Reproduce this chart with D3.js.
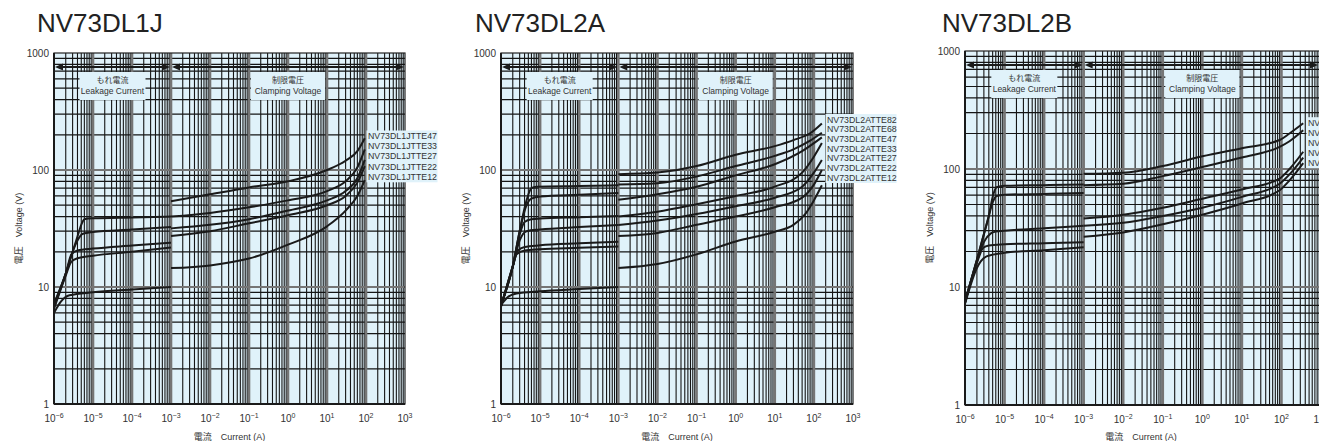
<!DOCTYPE html>
<html>
<head>
<meta charset="utf-8">
<script src="https://cdn.jsdelivr.net/npm/d3@7"></script>
<style>
body { margin: 0; background: #fff; }
text { font-family: "Liberation Sans", Arial, "Noto Sans CJK JP", sans-serif; fill: #333; }
</style>
</head>
<body>
<svg id="chart" width="1319" height="441"></svg>
<script>
const currentExponents = [-6, -5, -4, -3, -2, -1, 0, 1, 2, 3];
const voltageTicks = [1, 10, 100, 1000];
const boundaryCurrent = 1e-3;

// NV73DL1J
const dl1jNames = ["NV73DL1JTTE47", "NV73DL1JTTE33", "NV73DL1JTTE27", "NV73DL1JTTE22", "NV73DL1JTTE12"];
const dl1jLeakage = [
	[[1e-6, 7.2], [2e-6, 13], [3e-6, 20], [4e-6, 27], [5e-6, 34], [6e-6, 38], [1e-5, 38.6], [1e-4, 39.3], [1e-3, 40]],
	[[1e-6, 7], [2e-6, 13], [3e-6, 20], [4e-6, 25], [5.5e-6, 28.5], [1e-5, 29.5], [1e-4, 31], [1e-3, 32.5]],
	[[1e-6, 6.8], [2e-6, 13], [2.8e-6, 19], [4e-6, 20.5], [1e-5, 21.3], [1e-4, 22.6], [1e-3, 23.9]],
	[[1e-6, 6.5], [2e-6, 12.5], [2.8e-6, 16.5], [4e-6, 17.6], [1e-5, 18.5], [1e-4, 20], [1e-3, 21.8]],
	[[1e-6, 6], [1.5e-6, 7.5], [2.5e-6, 8.5], [1e-5, 9], [1e-4, 9.5], [1e-3, 10]]
];
const dl1jClamping = [
	[[1e-3, 54], [1e-2, 62], [1e-1, 71], [1, 80], [10, 100], [30, 120], [60, 145], [93, 187]],
	[[1e-3, 40], [1e-2, 43], [1e-1, 48], [1, 55], [10, 66], [30, 80], [60, 105], [93, 150]],
	[[1e-3, 31.7], [1e-2, 34], [1e-1, 38], [1, 45], [10, 55], [30, 66], [60, 85], [93, 122]],
	[[1e-3, 27.3], [1e-2, 30], [1e-1, 35], [1, 41], [10, 50], [30, 60], [60, 78], [93, 108]],
	[[1e-3, 14.5], [1e-2, 15.3], [1e-1, 17.5], [1, 23], [10, 33], [30, 45], [60, 60], [93, 82]]
];

// NV73DL2A
const dl2aNames = ["NV73DL2ATTE82", "NV73DL2ATTE68", "NV73DL2ATTE47", "NV73DL2ATTE33", "NV73DL2ATTE27", "NV73DL2ATTE22", "NV73DL2ATTE12"];
const dl2aLeakage = [
	[[1e-6, 7], [2e-6, 15], [3e-6, 30], [4.5e-6, 55], [6e-6, 70], [8e-6, 72], [1e-4, 73], [1e-3, 74]],
	[[1e-6, 7], [2e-6, 15], [3e-6, 30], [4.5e-6, 50], [6e-6, 57], [1e-5, 59.5], [1e-4, 61.5], [1e-3, 63.5]],
	[[1e-6, 6.9], [2e-6, 15], [3e-6, 28], [4e-6, 36], [6e-6, 38], [1e-5, 38.5], [1e-4, 39.5], [1e-3, 40.5]],
	[[1e-6, 6.9], [2e-6, 15], [3e-6, 25], [4.5e-6, 30], [1e-5, 31], [1e-4, 32.5], [1e-3, 33.8]],
	[[1e-6, 6.8], [2e-6, 15], [2.7e-6, 20.5], [4e-6, 22], [1e-5, 22.7], [1e-4, 23.6], [1e-3, 24.4]],
	[[1e-6, 6.8], [2e-6, 15], [2.5e-6, 19], [4e-6, 20.5], [1e-5, 21], [1e-4, 21.6], [1e-3, 22.2]],
	[[1e-6, 7], [1.5e-6, 8.2], [2.5e-6, 8.8], [1e-5, 9.2], [1e-4, 9.6], [1e-3, 10]]
];
const dl2aClamping = [
	[[1e-3, 92], [1e-2, 95], [1e-1, 108], [1, 135], [10, 160], [30, 180], [80, 206], [160, 250]],
	[[1e-3, 75], [1e-2, 77], [1e-1, 88], [1, 108], [10, 132], [30, 150], [80, 178], [160, 208]],
	[[1e-3, 55.6], [1e-2, 62], [1e-1, 72], [1, 90], [10, 112], [50, 145], [160, 190]],
	[[1e-3, 40], [1e-2, 44], [1e-1, 51], [1, 60], [10, 72], [50, 95], [100, 130], [160, 170]],
	[[1e-3, 33.8], [1e-2, 37], [1e-1, 42], [1, 49], [10, 58], [50, 72], [100, 95], [160, 122]],
	[[1e-3, 27.3], [1e-2, 29], [1e-1, 34], [1, 40], [10, 48], [50, 58], [100, 75], [160, 100]],
	[[1e-3, 14.5], [1e-2, 15.7], [1e-1, 19], [1, 24.5], [10, 29.7], [30, 34], [60, 42], [100, 55], [160, 74]]
];

// NV73DL2B
const dl2bNames = ["NV73DL2BTTE82", "NV73DL2BTTE68", "NV73DL2BTTE33", "NV73DL2BTTE27", "NV73DL2BTTE22"];
const dl2bLeakage = [
	[[1e-6, 7.5], [2e-6, 17], [3e-6, 28], [4e-6, 40], [5e-6, 58], [6.3e-6, 70], [1e-5, 72], [1e-4, 73], [1e-3, 74]],
	[[1e-6, 7.5], [2e-6, 17], [3e-6, 28], [4e-6, 40], [5e-6, 52], [6.3e-6, 59], [1e-5, 60.5], [1e-4, 61.5], [1e-3, 62.5]],
	[[1e-6, 7.4], [2e-6, 16.5], [3e-6, 24], [4.5e-6, 28.5], [6e-6, 29.5], [1e-5, 30], [1e-4, 31.5], [1e-3, 33]],
	[[1e-6, 7.3], [2e-6, 16], [2.9e-6, 21.5], [4e-6, 22.5], [1e-5, 23], [1e-4, 23.5], [1e-3, 24]],
	[[1e-6, 7.2], [2e-6, 14.5], [2.5e-6, 16.5], [3.5e-6, 18.2], [1e-5, 19.5], [1e-4, 20.5], [1e-3, 21.7]]
];
const dl2bClamping = [
	[[1e-3, 91], [1e-2, 93], [1e-1, 106], [1, 128], [10, 150], [90, 176], [160, 200], [355, 244]],
	[[1e-3, 73], [1e-2, 75], [1e-1, 87], [1, 104], [10, 125], [90, 154], [160, 172], [355, 213]],
	[[1e-3, 38], [1e-2, 41], [1e-1, 47], [1, 56], [10, 67], [90, 83], [160, 100], [355, 140]],
	[[1e-3, 33], [1e-2, 35], [1e-1, 40], [1, 47], [10, 58], [90, 75], [160, 90], [355, 125]],
	[[1e-3, 26.7], [1e-2, 29], [1e-1, 34], [1, 41], [10, 51], [90, 66], [160, 80], [355, 112]]
];

const panels = [
	{ id: "p1", title: "NV73DL1J", names: dl1jNames, leakage: dl1jLeakage, clamping: dl1jClamping,
		left: 54, right: 405, top: 53, bottom: 404, titleX: 37, labelX: 368, labelY: 136, labelStep: 10.2 },
	{ id: "p2", title: "NV73DL2A", names: dl2aNames, leakage: dl2aLeakage, clamping: dl2aClamping,
		left: 501, right: 853, top: 53, bottom: 404, titleX: 475, labelX: 827, labelY: 119.5, labelStep: 9.67 },
	{ id: "p3", title: "NV73DL2B", names: dl2bNames, leakage: dl2bLeakage, clamping: dl2bClamping,
		left: 965, right: 1321, top: 51, bottom: 405, titleX: 942, labelX: 1308, labelY: 122.7, labelStep: 10 }
];

const bg = "#e0f2fa";
const svg = d3.select("#chart");
const defs = svg.append("defs");

panels.forEach(p => {
	const x = d3.scaleLog().domain([1e-6, 1e3]).range([p.left, p.right]);
	const y = d3.scaleLog().domain([1, 1000]).range([p.bottom, p.top]);

	defs.append("clipPath")
		.attr("id", `clip-${p.id}`)
		.append("rect")
		.attr("x", p.left).attr("y", p.top)
		.attr("width", p.right - p.left).attr("height", p.bottom - p.top);

	const g = svg.append("g");

	svg.append("text")
		.attr("x", p.titleX)
		.attr("y", 32)
		.style("font-size", "26px")
		.style("fill", "#222")
		.text(p.title);

	g.append("rect")
		.attr("x", p.left).attr("y", p.top)
		.attr("width", p.right - p.left).attr("height", p.bottom - p.top)
		.attr("fill", bg);

	const grid = g.append("g").attr("clip-path", `url(#clip-${p.id})`);

	const xMinor = [];
	const xMajor = [];
	for (let e = -6; e < 3; e++) {
		if (e > -6) xMajor.push(Math.pow(10, e));
		for (let m = 2; m <= 9; m++) xMinor.push(m * Math.pow(10, e));
	}
	const yMinor = [];
	const yMajor = [10, 100];
	for (let e = 0; e < 3; e++) {
		for (let m = 2; m <= 9; m++) yMinor.push(m * Math.pow(10, e));
	}

	grid.selectAll(".ymin").data(yMinor).join("line")
		.attr("x1", p.left).attr("x2", p.right)
		.attr("y1", d => y(d)).attr("y2", d => y(d))
		.attr("stroke", "#151515").attr("stroke-width", 1.2);
	grid.selectAll(".xmin").data(xMinor).join("line")
		.attr("y1", p.top).attr("y2", p.bottom)
		.attr("x1", d => x(d)).attr("x2", d => x(d))
		.attr("stroke", "#151515").attr("stroke-width", 1.1);
	grid.selectAll(".ymaj").data(yMajor).join("line")
		.attr("x1", p.left).attr("x2", p.right)
		.attr("y1", d => y(d)).attr("y2", d => y(d))
		.attr("stroke", "#757575").attr("stroke-width", 2.2);
	grid.selectAll(".xmaj").data(xMajor).join("line")
		.attr("y1", p.top).attr("y2", p.bottom)
		.attr("x1", d => x(d)).attr("x2", d => x(d))
		.attr("stroke", "#757575").attr("stroke-width", 2.6);

	// frame
	g.append("rect")
		.attr("x", p.left).attr("y", p.top)
		.attr("width", p.right - p.left).attr("height", p.bottom - p.top)
		.attr("fill", "none").attr("stroke", "#222").attr("stroke-width", 1.2);
	g.append("line")
		.attr("x1", p.left).attr("x2", p.right)
		.attr("y1", p.bottom).attr("y2", p.bottom)
		.attr("stroke", "#1a1a1a").attr("stroke-width", 2);
	g.append("line")
		.attr("x1", p.left).attr("x2", p.left)
		.attr("y1", p.top).attr("y2", p.bottom)
		.attr("stroke", "#1a1a1a").attr("stroke-width", 2);

	// range arrows
	const ay = y(760);
	const arrows = [
		[x(1e-6) + 1, x(boundaryCurrent) - 1],
		[x(boundaryCurrent) + 1, Math.min(x(1e3), 1319) - 1]
	];
	arrows.forEach(([a, b]) => {
		g.append("line")
			.attr("x1", a + 5).attr("x2", b - 5)
			.attr("y1", ay).attr("y2", ay)
			.attr("stroke", "#1a1a1a").attr("stroke-width", 2);
		g.append("path")
			.attr("d", `M${a},${ay}L${a + 8},${ay - 3.5}L${a + 8},${ay + 3.5}Z`)
			.attr("fill", "#1a1a1a");
		g.append("path")
			.attr("d", `M${b},${ay}L${b - 8},${ay - 3.5}L${b - 8},${ay + 3.5}Z`)
			.attr("fill", "#1a1a1a");
	});

	const boxes = [
		{ c: Math.pow(10, -4.5), w: 66, jp: "もれ電流", en: "Leakage Current" },
		{ c: 1, w: 74, jp: "制限電圧", en: "Clamping Voltage" }
	];
	boxes.forEach(b => {
		const cx = x(b.c);
		g.append("rect")
			.attr("x", cx - b.w / 2).attr("y", p.top + 19)
			.attr("width", b.w).attr("height", 28)
			.attr("fill", bg);
		g.append("text")
			.attr("x", cx).attr("y", p.top + 30)
			.attr("text-anchor", "middle")
			.style("font-size", "8px")
			.style("font-family", "'Noto Sans CJK JP', sans-serif")
			.text(b.jp);
		g.append("text")
			.attr("x", cx).attr("y", p.top + 41)
			.attr("text-anchor", "middle")
			.style("font-size", "8.5px")
			.text(b.en);
	});

	// curves
	const line = d3.line()
		.x(d => x(d[0]))
		.y(d => y(d[1]))
		.curve(d3.curveMonotoneX);

	const curves = g.append("g").attr("clip-path", `url(#clip-${p.id})`);
	curves.selectAll(".leak").data(p.leakage).join("path")
		.attr("d", line)
		.attr("fill", "none").attr("stroke", "#1a1a1a").attr("stroke-width", 2);
	curves.selectAll(".clamp").data(p.clamping).join("path")
		.attr("d", line)
		.attr("fill", "none").attr("stroke", "#1a1a1a").attr("stroke-width", 2);

	// series labels (the third panel runs past the page edge, as in the original)
	const nLab = p.names.length;
	g.append("rect")
		.attr("x", p.labelX - 1.5)
		.attr("y", p.labelY - 5.5)
		.attr("width", 71)
		.attr("height", (nLab - 1) * p.labelStep + 11)
		.attr("fill", bg);
	g.selectAll(".lab").data(p.names).join("text")
		.attr("x", p.labelX)
		.attr("y", (d, i) => p.labelY + i * p.labelStep)
		.attr("dy", "0.35em")
		.style("font-size", "8.8px")
		.text(d => d);

	// y tick labels
	g.selectAll(".yt").data(voltageTicks).join("text")
		.attr("x", p.left - 5)
		.attr("y", d => y(d))
		.attr("dy", "0.35em")
		.attr("text-anchor", "end")
		.style("font-size", "10px")
		.text(d => d);

	// x tick labels
	g.selectAll(".xt").data(currentExponents).join("text")
		.attr("x", e => x(Math.pow(10, e)))
		.attr("y", p.bottom + 18)
		.attr("text-anchor", "middle")
		.style("font-size", "10px")
		.each(function(e) {
			const t = d3.select(this);
			t.append("tspan").text("10");
			t.append("tspan")
				.attr("dy", -4)
				.style("font-size", "7px")
				.text(e < 0 ? "\u2212" + (-e) : e);
		});

	// axis titles
	g.append("text")
		.attr("x", (p.left + p.right) / 2 - (p.id === "p3" ? 2 : 0))
		.attr("y", 440)
		.attr("text-anchor", "middle")
		.style("font-size", "9px")
		.text("電流　Current (A)");
	g.append("text")
		.attr("transform", `translate(${p.left - 32},${(p.top + p.bottom) / 2}) rotate(-90)`)
		.attr("text-anchor", "middle")
		.style("font-size", "9px")
		.text("電圧　Voltage (V)");
});
</script>
</body>
</html>
